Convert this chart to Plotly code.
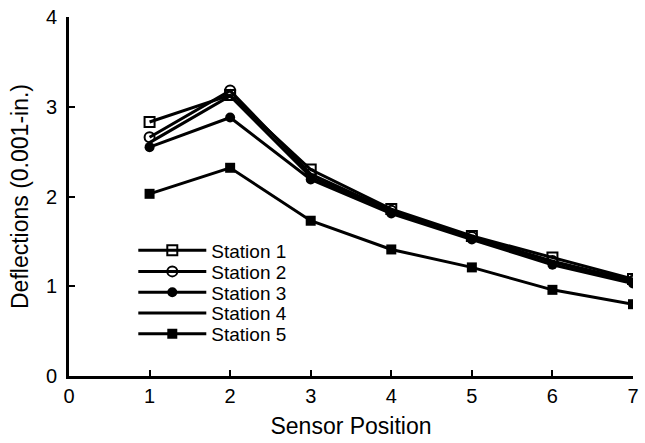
import plotly.graph_objects as go

positions = [1, 2, 3, 4, 5, 6, 7]
station1 = [2.83, 3.13, 2.30, 1.86, 1.56, 1.32, 1.08]
station2 = [2.66, 3.18, 2.25, 1.84, 1.55, 1.28, 1.06]
station3 = [2.55, 2.88, 2.19, 1.81, 1.52, 1.24, 1.03]
station4 = [2.60, 3.12, 2.22, 1.83, 1.54, 1.27, 1.05]
station5 = [2.03, 2.32, 1.73, 1.41, 1.21, 0.96, 0.80]
names = ["Station 1", "Station 2", "Station 3", "Station 4", "Station 5"]
tick_x = [0, 1, 2, 3, 4, 5, 6, 7]
tick_y = [0, 1, 2, 3, 4]

FONT = "Liberation Sans, Arial, sans-serif"

fig = go.Figure()
styles = [
    (station1, dict(symbol="square-open", size=10, color="black", line=dict(width=2))),
    (station2, dict(symbol="circle-open", size=10, color="black", line=dict(width=2))),
    (station3, dict(symbol="circle", size=10, color="black")),
    (station4, None),
    (station5, dict(symbol="square", size=10, color="black")),
]
legend_ids = ["legend", "legend2", "legend3", "legend4", "legend5"]
for name, (vals, mk), lid in zip(names, styles, legend_ids):
    if mk is None:
        fig.add_trace(go.Scatter(x=positions, y=vals, name=name, mode="lines",
                                 line=dict(color="black", width=3), legend=lid))
    else:
        fig.add_trace(go.Scatter(x=positions, y=vals, name=name, mode="lines+markers",
                                 line=dict(color="black", width=3), marker=mk, legend=lid))

legend_rows_y = [0.350, 0.291, 0.233, 0.175, 0.117]
legend_common = dict(x=0.114, xanchor="left", yanchor="middle",
                     bgcolor="rgba(0,0,0,0)", itemwidth=68,
                     font=dict(family=FONT, size=19, color="black"))
legends = {lid: dict(y=yy, **legend_common) for lid, yy in zip(legend_ids, legend_rows_y)}

fig.update_layout(
    width=645, height=443,
    margin=dict(l=69, r=6, t=16, b=67),
    plot_bgcolor="white", paper_bgcolor="white",
    font=dict(family=FONT, size=19, color="black"),
    showlegend=True,
    xaxis=dict(range=[0, 7], tickvals=tick_x,
               showgrid=False, zeroline=False, showline=True, linecolor="black",
               linewidth=3, ticks="inside", ticklen=6, tickwidth=2, tickcolor="black",
               title=dict(text="Sensor Position", standoff=12),
               tickfont=dict(family=FONT, size=20)),
    yaxis=dict(range=[0, 4], tickvals=tick_y,
               showgrid=False, zeroline=False, showline=True, linecolor="black",
               linewidth=3, ticks="inside", ticklen=6, tickwidth=2, tickcolor="black",
               ticklabelstandoff=5,
               title=dict(text="Deflections (0.001-in.)", standoff=11),
               tickfont=dict(family=FONT, size=20)),
    **legends,
)

fig.write_html("out.html")
